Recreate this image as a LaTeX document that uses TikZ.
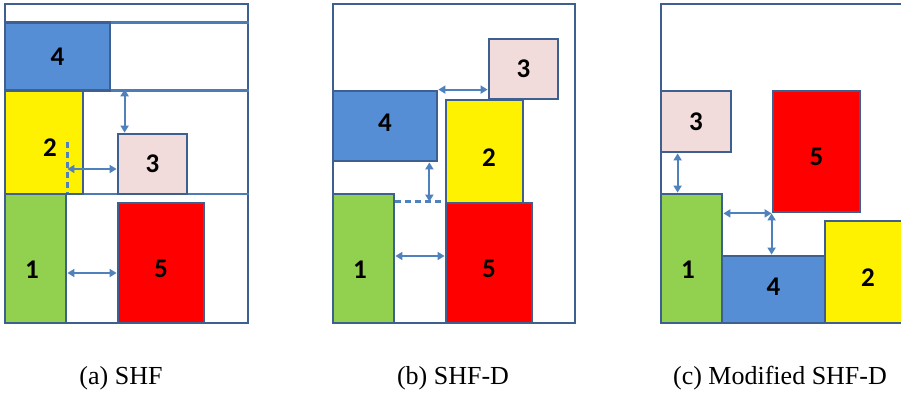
\documentclass[tikz,border=0pt]{standalone}
\usepackage{fontspec}
\usepackage{xcolor}
\usepackage{tikz}
\usetikzlibrary{arrows.meta}
\usetikzlibrary{calc}
\setmainfont{Liberation Serif}
\newfontfamily\numfont{Carlito}
\definecolor{edge}{RGB}{62,96,145}
\definecolor{gapblue}{RGB}{79,129,189}
\definecolor{leaf}{RGB}{146,208,80}
\definecolor{sky}{RGB}{85,142,213}
\definecolor{rose}{RGB}{242,220,219}
\tikzset{
	bin/.style={draw=edge, line width=2.6pt, inner sep=0pt},
	shelf/.style={draw=gapblue!85!edge, line width=2.6pt},
	piece/.style={draw=edge, line width=2.8pt, inner sep=0pt},
	num/.style={font=\numfont\bfseries\fontsize{27}{27}\selectfont},
	dist/.style={draw=gapblue, line width=2pt, {Triangle[length=7pt,width=8pt]}-{Triangle[length=7pt,width=8pt]}},
	cut/.style={draw=gapblue, line width=2.5pt, dash pattern=on 6pt off 4pt},
	caption/.style={anchor=base, font=\fontsize{26}{28}\selectfont}
}
\begin{document}
\begin{tikzpicture}[x=1pt, y=-1pt]
	\useasboundingbox (0,0) rectangle (901,397);
	\clip (0,0) rectangle (901,397);
	\node[bin, minimum width=243, minimum height=319] (aframe) at (126.5,163.5) {};
	\node[bin, minimum width=242, minimum height=319] (bframe) at (454,163.5) {};
	\node[bin, minimum width=269, minimum height=319] (cframe) at (795.5,163.5) {};
	\draw[shelf] (aframe.west |- 0,22.7) -- (aframe.east |- 0,22.7);
	\draw[shelf] (aframe.west |- 0,90.7) -- (aframe.east |- 0,90.7);
	\draw[shelf] (aframe.west |- 0,194) -- (aframe.east |- 0,194);
	\node[piece, fill=sky, minimum width=105, minimum height=68, label={[num]center:4}] (a4) at (57.5,56.7) {};
	\node[piece, fill=yellow, minimum width=78, minimum height=103.3, label={[num, xshift=6, yshift=-5]center:2}] (a2) at (44,142.3) {};
	\node[piece, fill=rose, minimum width=69, minimum height=60, label={[num]center:3}] (a3) at (152.5,164) {};
	\node[piece, fill=leaf, minimum width=61, minimum height=129, label={[num, xshift=-3.5, yshift=-11.5]center:1}] (a1) at (35.5,258.5) {};
	\node[piece, fill=red, minimum width=86, minimum height=120, label={[num, yshift=-6]center:5}] (a5) at (161,263) {};
	\draw[cut] ([yshift=-9]a3.north -| a1.east) -- (a1.north east);
	\draw[dist] ([xshift=8]a3.north west) -- ([xshift=8]a3.north west |- a2.north);
	\draw[dist] ([yshift=-5]a3.west) -- ([yshift=-5]a3.west -| a1.east);
	\draw[dist] ([yshift=-10]a5.west) -- ([yshift=-10]a5.west -| a1.east);
	\node[piece, fill=rose, minimum width=69, minimum height=60, label={[num]center:3}] (b3) at (523.5,69) {};
	\node[piece, fill=sky, minimum width=104, minimum height=70, label={[num, yshift=3]center:4}] (b4) at (385,126) {};
	\node[piece, fill=yellow, minimum width=77, minimum height=103, label={[num, xshift=4.5, yshift=-6.5]center:2}] (b2) at (484.5,151.5) {};
	\node[piece, fill=red, minimum width=86, minimum height=120, label={[num, yshift=-6]center:5}] (b5) at (489,263) {};
	\node[piece, fill=leaf, minimum width=61, minimum height=129, label={[num, xshift=-3.5, yshift=-11.5]center:1}] (b1) at (363.5,258.5) {};
	\draw[cut] (b1.north east |- b5.north) -- (b5.north west);
	\draw[dist] (b4.north east) -- (b4.north east -| b3.west);
	\draw[dist] ([xshift=-9]b4.south east) -- ([xshift=-9]b4.south east |- b5.north);
	\draw[dist] ([yshift=2.5]b1.east) -- ([yshift=2.5]b1.east -| b5.west);
	\node[piece, fill=rose, minimum width=70, minimum height=61, label={[num]center:3}] (c3) at (696,121.5) {};
	\node[piece, fill=red, minimum width=87, minimum height=121, label={[num, yshift=-5.5]center:5}] (c5) at (816.5,151.5) {};
	\node[piece, fill=leaf, minimum width=61, minimum height=129, label={[num, xshift=-3.5, yshift=-11.5]center:1}] (c1) at (691.5,258.5) {};
	\node[piece, fill=sky, minimum width=103, minimum height=67, label={[num, yshift=2.5]center:4}] (c4) at (773.5,289.5) {};
	\node[piece, fill=yellow, minimum width=86, minimum height=102, label={[num, yshift=-6]center:2}] (c2) at (868,272) {};
	\draw[dist] ([xshift=18]c3.south west) -- ([xshift=18]c3.south west |- c1.north);
	\draw[dist] (c1.north east |- c5.south) -- (c5.south west);
	\draw[dist] (c5.south west) -- (c5.south west |- c4.north);
	\node[caption] (capa) at (121,384) {(a) SHF};
	\node[caption] (capb) at (453,384) {(b) SHF-D};
	\node[caption] (capc) at (780,384) {(c) Modified SHF-D};
\end{tikzpicture}
\end{document}
